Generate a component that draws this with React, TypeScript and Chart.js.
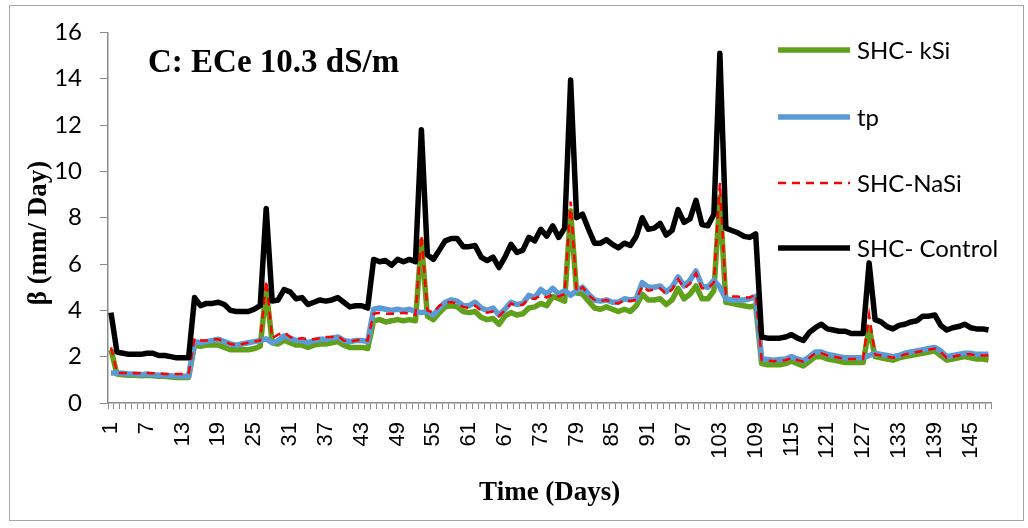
import React, { useEffect, useRef } from 'react';
import { Chart, registerables } from 'chart.js';

Chart.register(...registerables);

const days: string[] = Array.from({ length: 148 }, (_, i) => String(i + 1));

const yTicks = [0, 2, 4, 6, 8, 10, 12, 14, 16];

const seriesNames = ['SHC- kSi', 'tp', 'SHC-NaSi', 'SHC- Control'];

const kSi = [
  2.3, 1.25, 1.22, 1.2, 1.2, 1.18, 1.2, 1.18, 1.15, 1.15, 1.12, 1.1, 1.1, 1.1,
  2.5, 2.45, 2.5, 2.5, 2.5, 2.4, 2.3, 2.3, 2.3, 2.3, 2.35, 2.45, 4.9, 2.6, 2.55,
  2.7, 2.6, 2.5, 2.5, 2.4, 2.5, 2.55, 2.55, 2.6, 2.65, 2.5, 2.4, 2.4, 2.4, 2.35,
  3.55, 3.6, 3.5, 3.55, 3.6, 3.55, 3.6, 3.55, 7.0,
  3.75, 3.6, 3.9, 4.15, 4.2, 4.15, 3.95, 3.9, 3.95, 3.7, 3.6, 3.65, 3.4, 3.75, 3.9,
  3.8, 3.85, 4.1, 4.15, 4.3, 4.2, 4.6, 4.5, 4.4, 8.3,
  4.75, 4.7, 4.4, 4.1, 4.05, 4.15, 4.05, 3.95, 4.05, 3.95, 4.2, 4.7, 4.45, 4.45,
  4.5, 4.25, 4.45, 4.95, 4.5, 4.7, 5.05, 4.5, 4.5, 4.85, 8.9,
  4.35, 4.3, 4.25, 4.2, 4.15, 4.2,
  1.7, 1.65, 1.65, 1.65, 1.7, 1.8, 1.7, 1.6, 1.8, 2.0, 2.0, 1.9, 1.85, 1.8, 1.75,
  1.75, 1.75, 1.75, 3.25, 2.0, 1.95, 1.9, 1.85, 1.95, 2.0, 2.05, 2.1, 2.15, 2.2,
  2.25, 2.05, 1.85, 1.9, 1.95, 2.0, 1.95, 1.9, 1.9, 1.85,
];

const tp = [
  1.3, 1.3, 1.28, 1.25, 1.25, 1.22, 1.25, 1.22, 1.2, 1.2, 1.18, 1.15, 1.15, 1.15,
  2.65, 2.6, 2.65, 2.7, 2.75, 2.65, 2.55, 2.5, 2.55, 2.6, 2.65, 2.7, 2.77, 2.6, 2.7,
  2.9, 2.8, 2.7, 2.72, 2.6, 2.7, 2.75, 2.75, 2.8, 2.85, 2.7, 2.65, 2.7, 2.7, 2.65,
  4.05, 4.1, 4.05, 4.0, 4.05, 4.0, 4.05, 3.95, 3.9,
  3.95, 3.8, 4.1, 4.35, 4.45, 4.4, 4.2, 4.2, 4.35, 4.1, 4.0, 4.1, 3.8, 4.05, 4.35,
  4.25, 4.3, 4.65, 4.55, 4.9, 4.7, 4.95, 4.7, 4.85, 4.65,
  4.85, 5.0, 4.7, 4.45, 4.4, 4.45, 4.35, 4.35, 4.5, 4.45, 4.5, 5.2, 5.0, 5.0,
  5.05, 4.8, 5.0, 5.45, 5.05, 5.3, 5.7, 5.05, 5.0, 5.3, 5.0,
  4.5, 4.45, 4.45, 4.45, 4.5, 4.6,
  1.9, 1.88, 1.85, 1.88, 1.9, 2.0, 1.9, 1.82, 2.0, 2.2, 2.2, 2.1, 2.05, 2.0, 1.95,
  1.95, 1.95, 1.95, 2.05, 2.15, 2.1, 2.05, 2.0, 2.05, 2.15, 2.2, 2.25, 2.3, 2.35,
  2.4, 2.25, 2.0, 2.05, 2.1, 2.15, 2.15, 2.1, 2.1, 2.1,
];

const naSi = [
  2.4, 1.3, 1.3, 1.3, 1.28, 1.3, 1.3, 1.28, 1.28, 1.25, 1.25, 1.25, 1.25, 1.25,
  2.8, 2.7, 2.7, 2.75, 2.75, 2.65, 2.55, 2.5, 2.55, 2.6, 2.65, 2.7, 5.3, 2.8, 2.95,
  3.05, 2.85, 2.75, 2.8, 2.75, 2.75, 2.8, 2.85, 2.85, 2.9, 2.7, 2.65, 2.7, 2.75, 2.7,
  3.85, 3.9, 3.85, 3.85, 3.85, 3.9, 3.85, 3.8, 7.25,
  4.0, 3.9, 4.2, 4.35, 4.35, 4.3, 4.15, 4.1, 4.2, 4.0, 3.9, 3.95, 3.75, 4.0, 4.3,
  4.2, 4.25, 4.5, 4.5, 4.65, 4.55, 4.7, 4.6, 4.7, 8.7,
  4.8, 5.0, 4.65, 4.45, 4.4, 4.45, 4.35, 4.3, 4.45, 4.4, 4.45, 5.05, 4.85, 4.9,
  4.95, 4.7, 4.9, 5.35, 4.95, 5.15, 5.6, 4.95, 4.95, 5.2, 9.5,
  4.7, 4.6, 4.6, 4.55, 4.55, 4.7,
  1.85, 1.83, 1.8, 1.83, 1.85, 1.95, 1.85, 1.78, 1.95, 2.15, 2.15, 2.05, 2.0, 1.95,
  1.9, 1.9, 1.9, 1.9, 3.8, 2.1, 2.05, 2.0, 1.95, 2.0, 2.1, 2.15, 2.2, 2.25, 2.3,
  2.35, 2.2, 1.95, 2.0, 2.05, 2.1, 2.1, 2.05, 2.05, 2.05,
];

const control = [
  3.9, 2.2, 2.15, 2.1, 2.1, 2.1, 2.15, 2.15, 2.05, 2.05, 2.0, 1.95, 1.95, 1.95,
  4.55, 4.2, 4.3, 4.3, 4.35, 4.25, 4.0, 3.95, 3.95, 3.95, 4.05, 4.2, 8.4, 4.4, 4.45,
  4.9, 4.8, 4.5, 4.55, 4.25, 4.35, 4.45, 4.4, 4.45, 4.55, 4.35, 4.15, 4.2, 4.2, 4.1,
  6.2, 6.1, 6.15, 5.95, 6.2, 6.1, 6.2, 6.1, 11.8, 6.4,
  6.2, 6.6, 7.0, 7.1, 7.1, 6.75, 6.75, 6.8, 6.3, 6.15,
  6.3, 5.85, 6.3, 6.85, 6.5, 6.6, 7.15, 7.0, 7.5, 7.2,
  7.65, 7.15, 7.55, 13.95, 8.0, 8.15, 7.5, 6.9, 6.9, 7.05,
  6.85, 6.7, 6.9, 6.8, 7.2, 8.0, 7.5, 7.55, 7.75, 7.25,
  7.45, 8.35, 7.8, 7.95, 8.75, 7.7, 7.65, 8.15, 15.1, 7.55,
  7.45, 7.35, 7.2, 7.15, 7.3,
  2.85, 2.8, 2.8, 2.8, 2.85, 2.95, 2.8, 2.7, 3.05, 3.25,
  3.4, 3.2, 3.15, 3.1, 3.1, 3.0, 3.0, 3.0, 6.05, 3.6,
  3.5, 3.3, 3.2, 3.35, 3.4, 3.5, 3.55, 3.75, 3.75, 3.8,
  3.35, 3.15, 3.25, 3.3, 3.4, 3.25, 3.2, 3.2, 3.15,
];

const chartTitle = 'C: ECe 10.3 dS/m';
const xTitle = 'Time (Days)';
const yTitle = 'β (mm/ Day)';

const AXIS_GRAY = '#8a8a8a';

const textPlugin = {
  id: 'textAndLegend',
  afterDraw(chart: any) {
    const ctx = chart.ctx as CanvasRenderingContext2D;
    const area = chart.chartArea;
    ctx.save();
    ctx.fillStyle = '#000';
    // chart title
    ctx.font = 'bold 33px "Liberation Serif", "Times New Roman", serif';
    ctx.textAlign = 'left';
    ctx.textBaseline = 'alphabetic';
    ctx.fillText(chartTitle, area.left + 40, area.top + 40);
    // x title
    ctx.font = 'bold 27px "Liberation Serif", "Times New Roman", serif';
    ctx.textAlign = 'center';
    ctx.textBaseline = 'middle';
    ctx.fillText(xTitle, (area.left + area.right) / 2, 493);
    // y title
    ctx.save();
    ctx.translate(39, 233);
    ctx.rotate(-Math.PI / 2);
    ctx.fillText(yTitle, 0, 0);
    ctx.restore();
    // legend
    const rows = [50, 117, 183, 248];
    const lx = 778;
    const llen = 72;
    ctx.font = '24px Lato, "Open Sans", sans-serif';
    ctx.textAlign = 'left';
    ctx.textBaseline = 'middle';
    chart.data.datasets.forEach((ds: any, i: number) => {
      const y = rows[i];
      ctx.save();
      ctx.strokeStyle = ds.borderColor;
      ctx.lineWidth = ds.borderWidth;
      ctx.setLineDash(ds.borderDash || []);
      ctx.lineCap = 'butt';
      ctx.beginPath();
      ctx.moveTo(lx, y);
      ctx.lineTo(lx + llen, y);
      ctx.stroke();
      ctx.restore();
      ctx.fillStyle = '#000';
      ctx.fillText(ds.label, lx + llen + 7, y + 1);
    });
    ctx.restore();
  },
};

export default function App() {
  const canvasRef = useRef<HTMLCanvasElement | null>(null);

  useEffect(() => {
    if (!canvasRef.current) return;
    const chart = new Chart(canvasRef.current, {
      type: 'line',
      data: {
        labels: days,
        datasets: [
          {
            label: seriesNames[0],
            data: kSi,
            borderColor: '#60a01a',
            backgroundColor: '#60a01a',
            borderWidth: 5.5,
            pointRadius: 0,
            tension: 0,
            borderJoinStyle: 'round',
            order: 4,
          },
          {
            label: seriesNames[1],
            data: tp,
            borderColor: '#5b9bd5',
            backgroundColor: '#5b9bd5',
            borderWidth: 5.5,
            pointRadius: 0,
            tension: 0,
            borderJoinStyle: 'round',
            order: 3,
          },
          {
            label: seriesNames[2],
            data: naSi,
            borderColor: '#ff0000',
            backgroundColor: '#ff0000',
            borderWidth: 2.5,
            borderDash: [8, 6],
            pointRadius: 0,
            tension: 0,
            order: 2,
          },
          {
            label: seriesNames[3],
            data: control,
            borderColor: '#000000',
            backgroundColor: '#000000',
            borderWidth: 5.5,
            pointRadius: 0,
            tension: 0,
            borderJoinStyle: 'round',
            order: 1,
          },
        ],
      },
      options: {
        animation: false,
        responsive: false,
        events: [],
        layout: { padding: { left: 0, top: 30, right: 32, bottom: 0 } },
        plugins: {
          legend: { display: false },
          tooltip: { enabled: false },
          title: { display: false },
        },
        scales: {
          x: {
            type: 'category',
            offset: true,
            grid: {
              display: true,
              drawOnChartArea: false,
              drawTicks: true,
              tickLength: 6,
              offset: true,
              color: AXIS_GRAY,
              lineWidth: 1,
            },
            border: { display: true, color: AXIS_GRAY, width: 1.5 },
            ticks: {
              autoSkip: false,
              minRotation: 90,
              maxRotation: 90,
              padding: 13,
              color: '#000',
              font: { family: '"Liberation Sans", Arial, sans-serif', size: 22 },
              callback: (_v: any, i: number) => (i % 6 === 0 ? days[i] : ''),
            },
            afterFit: (scale: any) => {
              scale.height = 125;
            },
          },
          y: {
            min: 0,
            max: 16,
            afterBuildTicks: (scale: any) => {
              scale.ticks = yTicks.map((v) => ({ value: v }));
            },
            grid: {
              display: true,
              drawOnChartArea: false,
              drawTicks: true,
              tickLength: 8,
              color: AXIS_GRAY,
            },
            border: { display: true, color: AXIS_GRAY, width: 1.5 },
            ticks: {
              padding: 18,
              color: '#000',
              font: { family: 'Lato, "Open Sans", sans-serif', size: 24 },
            },
            afterFit: (scale: any) => {
              scale.width = 108;
            },
          },
        },
      },
      plugins: [textPlugin],
    });
    return () => chart.destroy();
  }, []);

  return (
    <div
      style={{
        position: 'absolute',
        left: 0,
        top: 0,
        width: 1028,
        height: 528,
        background: '#fff',
      }}
    >
      <div
        style={{
          position: 'absolute',
          left: 9,
          top: 5,
          width: 1015,
          height: 516,
          border: '1.5px solid #a6a6a6',
          boxSizing: 'border-box',
        }}
      />
      <canvas
        ref={canvasRef}
        width={1028}
        height={528}
        style={{ position: 'absolute', left: 0, top: 0, width: 1028, height: 528 }}
      />
    </div>
  );
}
